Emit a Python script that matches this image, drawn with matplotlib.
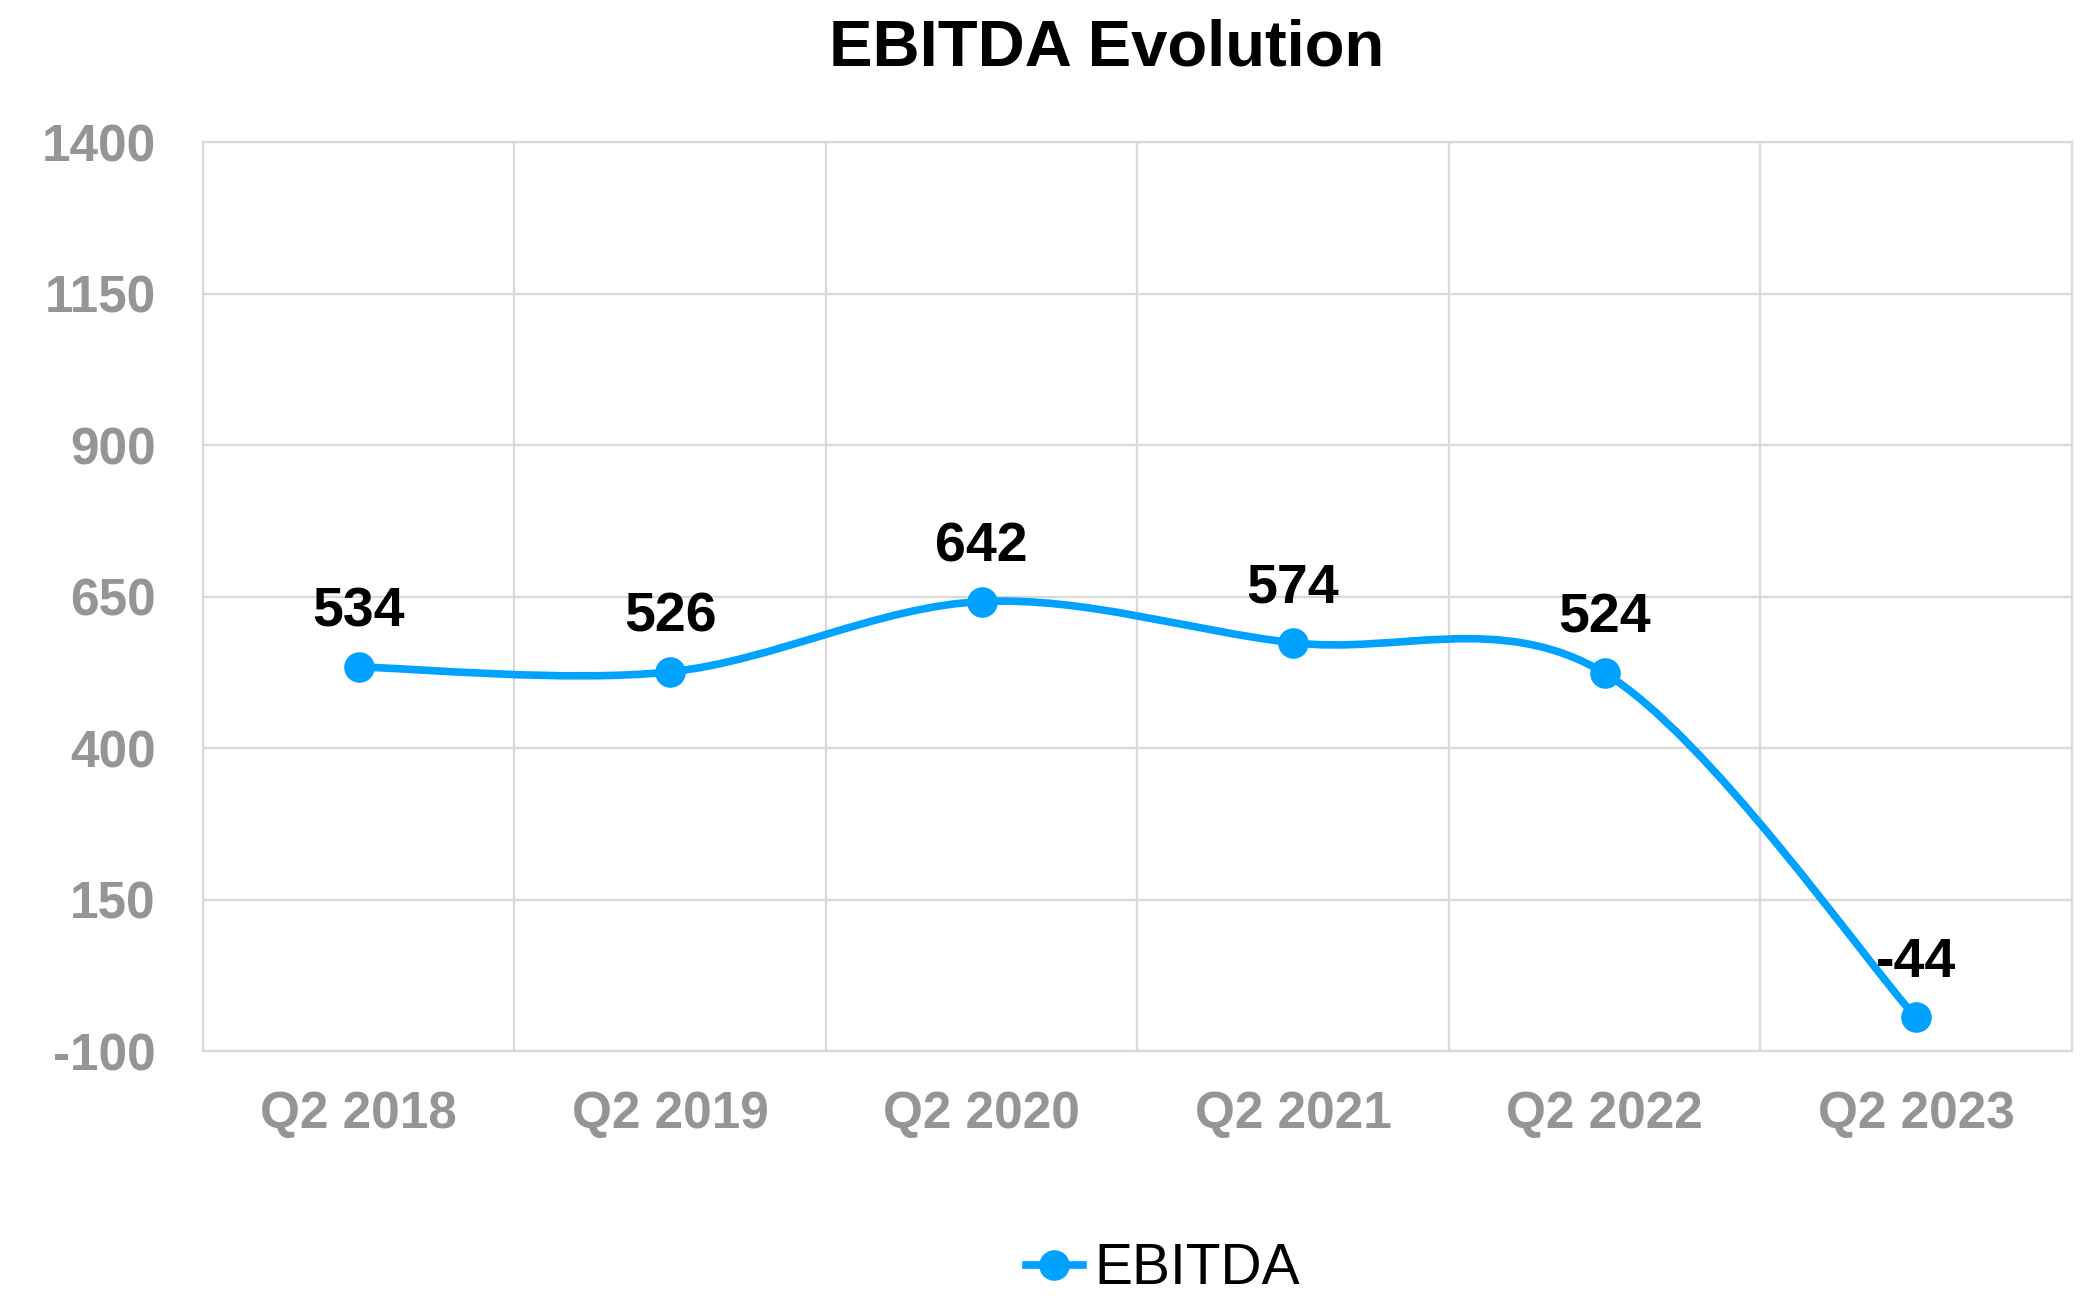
import matplotlib.pyplot as plt
from matplotlib.path import Path
from matplotlib.patches import PathPatch
import numpy as np

plt.rcParams['font.family'] = ['Liberation Sans', 'DejaVu Sans']
plt.rcParams['axes.unicode_minus'] = False

quarters = ['Q2 2018', 'Q2 2019', 'Q2 2020', 'Q2 2021', 'Q2 2022', 'Q2 2023']
ebitda = [534, 526, 642, 574, 524, -44]
y_ticks = [-100, 150, 400, 650, 900, 1150, 1400]

LINE_COLOR = '#00A2FF'
GRID_COLOR = '#D9D9D9'
TICK_COLOR = '#959595'


def smooth_path(xs, ys):
    """Excel-style smoothed line: Catmull-Rom segments as cubic Bezier curves"""
    pts = np.column_stack([xs, ys]).astype(float)
    padded = np.vstack([pts[0], pts, pts[-1]])
    verts = [pts[0]]
    codes = [Path.MOVETO]
    for i in range(1, len(padded) - 2):
        p0, p1, p2, p3 = padded[i - 1], padded[i], padded[i + 1], padded[i + 2]
        c1 = p1 + (p2 - p0) / 6.0
        c2 = p2 - (p3 - p1) / 6.0
        verts += [c1, c2, p2]
        codes += [Path.CURVE4] * 3
    return Path(verts, codes)


fig = plt.figure(figsize=(20.8, 12.98), dpi=100)
ax = fig.add_axes([0.0976, 0.190, 0.8984, 0.7006])

x = np.arange(len(quarters))
patch = PathPatch(smooth_path(x, ebitda), facecolor='none', edgecolor=LINE_COLOR,
                  linewidth=5.5, capstyle='round', zorder=3)
ax.add_patch(patch)
ax.plot(x, ebitda, linestyle='none', marker='o', markersize=21,
        color=LINE_COLOR, zorder=4)

for xi, v in zip(x, ebitda):
    ax.annotate(f'{v}', (xi, v), xytext=(0, 29), textcoords='offset points',
                ha='center', va='baseline', fontsize=40, fontweight='bold',
                color='black', zorder=5)

ax.set_xlim(-0.5, len(quarters) - 0.5)
ax.set_ylim(-100, 1400)
ax.set_yticks(y_ticks)
ax.set_xticks(x)
ax.set_xticklabels(quarters)
ax.set_xticks(np.arange(0.5, len(quarters) - 0.5, 1.0), minor=True)

ax.tick_params(axis='both', which='both', length=0)
ax.tick_params(axis='y', pad=34, labelsize=37, labelcolor=TICK_COLOR)
ax.tick_params(axis='x', pad=28, labelsize=37, labelcolor=TICK_COLOR)
for lbl in ax.get_xticklabels() + ax.get_yticklabels():
    lbl.set_fontweight('bold')

ax.grid(True, axis='y', which='major', color=GRID_COLOR, linewidth=1.6)
ax.grid(True, axis='x', which='minor', color=GRID_COLOR, linewidth=1.6)
ax.grid(False, axis='x', which='major')
ax.set_axisbelow(True)
for s in ax.spines.values():
    s.set_color(GRID_COLOR)
    s.set_linewidth(1.6)

fig.text(0.532, 0.963, 'EBITDA Evolution', ha='center', va='center',
         fontsize=47, fontweight='bold')

handle = plt.Line2D([], [], color=LINE_COLOR, linewidth=5.5, marker='o', markersize=21)
fig.legend([handle], ['EBITDA'], loc='center', bbox_to_anchor=(0.559, 0.022),
           frameon=False, fontsize=41, handlelength=1.0, handletextpad=0.2)

plt.savefig('out.png', dpi=100)
